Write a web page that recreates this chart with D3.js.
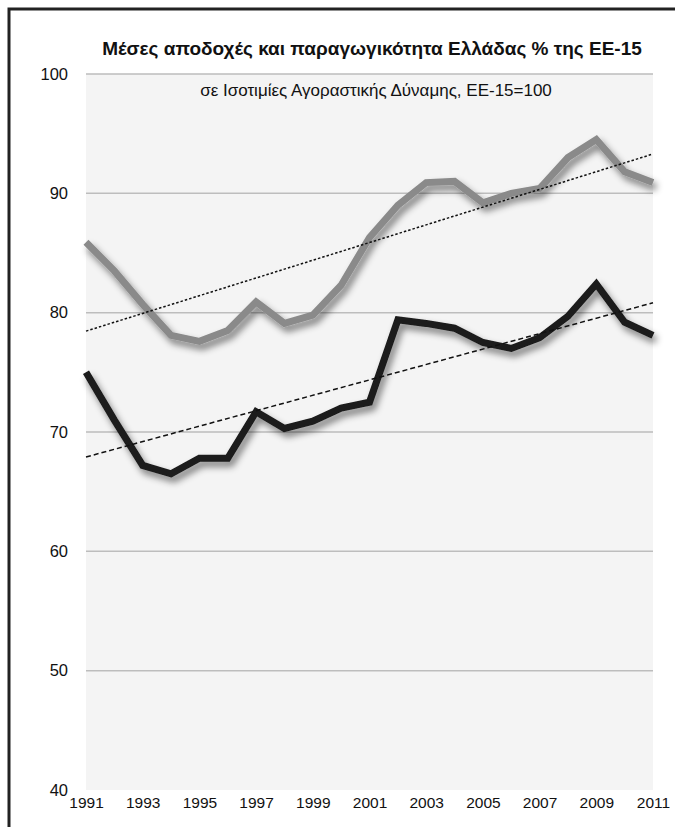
<!DOCTYPE html>
<html>
<head>
<meta charset="utf-8">
<script src="https://cdn.jsdelivr.net/npm/d3@7"></script>
<style>
  body { margin: 0; background: #fff; }
  svg { display: block; font-family: "Liberation Sans", Arial, Helvetica, sans-serif; }
</style>
</head>
<body>
<div id="chart"></div>
<script>
// data
let years = [1991,1992,1993,1994,1995,1996,1997,1998,1999,2000,2001,2002,2003,2004,2005,2006,2007,2008,2009,2010,2011];
let productivity = [85.9,83.5,80.7,78.1,77.6,78.5,80.9,79.1,79.8,82.3,86.3,89.0,90.9,91.0,89.2,90.0,90.4,93.0,94.5,91.8,90.9];
let wages = [75.0,71.0,67.2,66.5,67.8,67.8,71.7,70.3,70.9,72.0,72.5,79.4,79.1,78.7,77.5,77.0,77.9,79.7,82.4,79.2,78.1];
let yTicks = [40,50,60,70,80,90,100];
let xTicks = [1991,1993,1995,1997,1999,2001,2003,2005,2007,2009,2011];

let title = "Μέσες αποδοχές και παραγωγικότητα Ελλάδας % της ΕΕ-15";
let subtitle = "σε Ισοτιμίες Αγοραστικής Δύναμης, ΕΕ-15=100";

let w = 675;
let h = 827;
let plotL = 86, plotR = 653, plotT = 74, plotB = 790;

let svg = d3.select("#chart").append("svg")
  .attr("width", w)
  .attr("height", h);

// shadow like the excel one
let defs = svg.append("defs");
let f = defs.append("filter").attr("id", "shadow")
  .attr("x", "-10%").attr("y", "-10%").attr("width", "130%").attr("height", "140%");
f.append("feGaussianBlur").attr("in", "SourceAlpha").attr("stdDeviation", 3.5).attr("result", "blur");
f.append("feOffset").attr("in", "blur").attr("dx", 3).attr("dy", 5).attr("result", "off");
f.append("feComponentTransfer").attr("in", "off").attr("result", "sh")
  .append("feFuncA").attr("type", "linear").attr("slope", 0.5);
let merge = f.append("feMerge");
merge.append("feMergeNode").attr("in", "sh");
merge.append("feMergeNode").attr("in", "SourceGraphic");

// outer frame
svg.append("rect")
  .attr("x", 9).attr("y", 9)
  .attr("width", 700).attr("height", 900)
  .attr("fill", "#fff")
  .attr("stroke", "#222")
  .attr("stroke-width", 3);

let x = d3.scaleLinear().domain([d3.min(years), d3.max(years)]).range([plotL, plotR]);
let y = d3.scaleLinear().domain([40, 100]).range([plotB, plotT]);

// plot background
svg.append("rect")
  .attr("x", plotL).attr("y", plotT)
  .attr("width", plotR - plotL).attr("height", plotB - plotT)
  .attr("fill", "#f4f4f4");

// gridlines
svg.selectAll(".grid").data(yTicks.filter(d => d > 40)).enter()
  .append("line")
    .attr("class", "grid")
    .attr("x1", plotL).attr("x2", plotR)
    .attr("y1", d => y(d)).attr("y2", d => y(d))
    .attr("stroke", "#bdbdbd")
    .attr("stroke-width", 1.5);

// axes
let yAxis = svg.append("g")
  .attr("transform", "translate(" + plotL + ",0)")
  .call(d3.axisLeft(y).tickValues(yTicks).tickSize(0).tickPadding(18));
yAxis.select(".domain").remove();
yAxis.selectAll("text").attr("font-size", 16.5).attr("fill", "#111").attr("font-family", "Liberation Sans, Arial, sans-serif");

let xAxis = svg.append("g")
  .attr("transform", "translate(0," + plotB + ")")
  .call(d3.axisBottom(x).tickValues(xTicks).tickFormat(d3.format("d")).tickSize(0).tickPadding(7));
xAxis.select(".domain").remove();
xAxis.selectAll("text").attr("font-size", 15.5).attr("fill", "#111").attr("font-family", "Liberation Sans, Arial, sans-serif");

// linear trend (least squares, like excel trendline)
function trend(vals){
  let mx = d3.mean(years), my = d3.mean(vals);
  let num = 0, den = 0;
  years.forEach(function(yr, i){
    num += (yr - mx) * (vals[i] - my);
    den += (yr - mx) * (yr - mx);
  });
  let b = num / den;
  let a = my - b * mx;
  return [d3.min(years), d3.max(years)].map(yr => ({year: yr, v: a + b * yr}));
}

let line = d3.line()
  .x(d => x(d.year))
  .y(d => y(d.v));

function pairs(vals){
  return years.map((yr, i) => ({year: yr, v: vals[i]}));
}

svg.append("path")
  .datum(pairs(productivity))
  .attr("d", line)
  .attr("fill", "none")
  .attr("stroke", "#8a8a8a")
  .attr("stroke-width", 7)
  .attr("filter", "url(#shadow)");

svg.append("path")
  .datum(pairs(wages))
  .attr("d", line)
  .attr("fill", "none")
  .attr("stroke", "#1a1a1a")
  .attr("stroke-width", 7)
  .attr("filter", "url(#shadow)");

// trend lines
svg.append("path")
  .datum(trend(productivity))
  .attr("d", line)
  .attr("fill", "none")
  .attr("stroke", "#111")
  .attr("stroke-width", 1.5)
  .attr("stroke-dasharray", "2.5,2");

svg.append("path")
  .datum(trend(wages))
  .attr("d", line)
  .attr("fill", "none")
  .attr("stroke", "#111")
  .attr("stroke-width", 1.5)
  .attr("stroke-dasharray", "5,3");

// titles
svg.append("text")
  .attr("x", 372)
  .attr("y", 55)
  .attr("text-anchor", "middle")
  .attr("font-size", 19)
  .attr("font-weight", "bold")
  .attr("fill", "#111")
  .text(title);

svg.append("text")
  .attr("x", 376)
  .attr("y", 96)
  .attr("text-anchor", "middle")
  .attr("font-size", 17)
  .attr("fill", "#111")
  .text(subtitle);
</script>
</body>
</html>
